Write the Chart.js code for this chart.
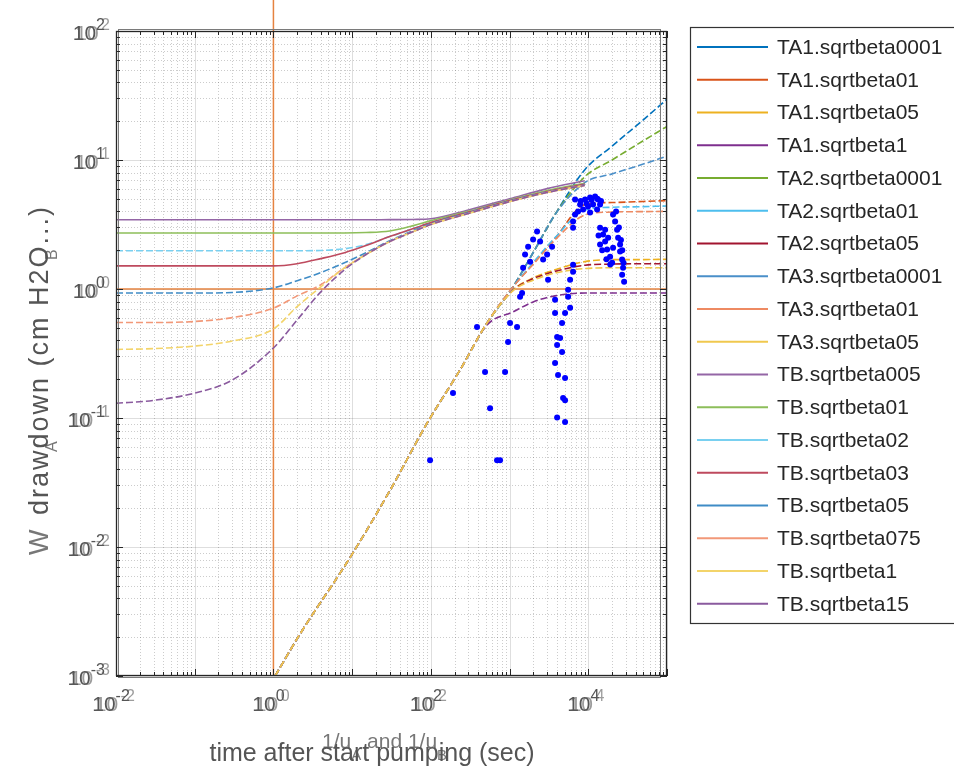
<!DOCTYPE html>
<html>
<head>
<meta charset="utf-8">
<title>drawdown type curves</title>
<script src="https://cdn.jsdelivr.net/npm/chart.js@4.4.1/dist/chart.umd.min.js"></script>
<style>
  html, body { margin: 0; padding: 0; background: #fff; }
  #wrap { width: 954px; height: 774px; }
</style>
</head>
<body>
<div id="wrap"><canvas id="chart" width="954" height="774"></canvas></div>
<script>
// Type A curves (start on the Theis line, then level off)
const taTime = [1.05, 2.18, 9.4, 30.3, 89.5, 235, 518, 1107, 1990, 3784, 9100, 20000, 50000, 100000];
const ta1Beta0001 = [0.001, 0.00212, 0.00828, 0.0275, 0.0912, 0.236, 0.546, 1.04, 1.91, 3.78, 8.45, 12.8, 20.5, 29.6];
const ta1Beta01   = [0.001, 0.00212, 0.00828, 0.0275, 0.0912, 0.236, 0.546, 1.04, 1.57, 2.47, 4.52, 4.68, 4.77, 4.85];
const ta1Beta05   = [0.001, 0.00212, 0.00828, 0.0275, 0.0912, 0.236, 0.546, 0.98, 1.22, 1.41, 1.63, 1.69, 1.69, 1.70];
const ta1Beta1    = [0.001, 0.00212, 0.00828, 0.0275, 0.0912, 0.236, 0.527, 0.665, 0.794, 0.885, 0.93, 0.93, 0.93, 0.93];
const ta2Beta0001 = [0.001, 0.00212, 0.00828, 0.0275, 0.0912, 0.236, 0.546, 1.04, 1.91, 3.78, 7.45, 10.0, 14.1, 18.2];
const ta2Beta01   = [0.001, 0.00212, 0.00828, 0.0275, 0.0912, 0.236, 0.546, 1.04, 1.60, 2.50, 4.10, 4.30, 4.35, 4.40];
const ta2Beta05   = [0.001, 0.00212, 0.00828, 0.0275, 0.0912, 0.236, 0.546, 0.98, 1.20, 1.37, 1.53, 1.56, 1.57, 1.57];
const ta3Beta0001 = [0.001, 0.00212, 0.00828, 0.0275, 0.0912, 0.236, 0.546, 1.04, 1.91, 3.78, 6.70, 7.80, 9.30, 10.7];
const ta3Beta01   = [0.001, 0.00212, 0.00828, 0.0275, 0.0912, 0.236, 0.546, 1.04, 1.55, 2.40, 3.75, 3.95, 3.98, 4.00];
const ta3Beta05   = [0.001, 0.00212, 0.00828, 0.0275, 0.0912, 0.236, 0.546, 0.97, 1.17, 1.33, 1.44, 1.46, 1.46, 1.46];

// Type B curves (flat start, then join the late-time curve)
const tbTime = [0.01, 0.03, 0.1, 0.3, 1, 2, 4, 8, 15, 30, 60, 100, 300, 1000, 3000, 9000];
const tbBeta005 = [3.44, 3.44, 3.44, 3.44, 3.44, 3.44, 3.44, 3.44, 3.44, 3.45, 3.46, 3.50, 4.10, 5.00, 6.00, 6.90];
const tbBeta01  = [2.72, 2.72, 2.72, 2.72, 2.72, 2.72, 2.72, 2.72, 2.74, 2.82, 3.10, 3.39, 4.00, 4.90, 5.80, 6.60];
const tbBeta02  = [1.98, 1.98, 1.98, 1.98, 1.98, 1.98, 1.99, 2.05, 2.21, 2.55, 2.94, 3.27, 3.95, 4.85, 5.70, 6.50];
const tbBeta03  = [1.51, 1.51, 1.51, 1.51, 1.51, 1.57, 1.72, 1.91, 2.17, 2.55, 2.94, 3.27, 3.95, 4.85, 5.70, 6.50];
const tbBeta05  = [0.93, 0.93, 0.93, 0.94, 1.02, 1.16, 1.34, 1.60, 1.91, 2.37, 2.84, 3.21, 3.90, 4.80, 5.65, 6.40];
const tbBeta075 = [0.55, 0.55, 0.56, 0.60, 0.71, 0.885, 1.08, 1.46, 1.85, 2.33, 2.79, 3.16, 3.85, 4.75, 5.60, 6.35];
const tbBeta1   = [0.34, 0.345, 0.361, 0.395, 0.49, 0.73, 1.04, 1.46, 1.85, 2.33, 2.79, 3.16, 3.85, 4.75, 5.60, 6.35];
const tbBeta15  = [0.13, 0.137, 0.156, 0.197, 0.349, 0.575, 0.95, 1.41, 1.85, 2.33, 2.79, 3.16, 3.85, 4.75, 5.60, 6.35];

// measured drawdown (blue dots)
const obsTime = [97.7, 693, 757, 191, 565, 488, 877, 957, 386, 1014, 1245, 1360, 1442, 1486, 1720, 2236, 2443,
  3467, 3000, 2668, 3083, 1574, 1824, 1990, 6412, 6412, 6412, 6412, 5875, 5540, 5540, 3784, 5875, 3784, 5070,
  4645, 4018, 4385, 4018, 4645, 3784, 4130, 5070, 4786, 5070, 4018, 5070,
  6792, 7870, 9100, 10540, 12200, 13310, 14120, 7413, 8590, 9930, 11500, 12940, 6792, 10540, 8000, 11000, 13000, 14500, 9500,
  14120, 15420, 16370, 17340, 18930, 20090, 16370, 17870, 20650, 14120, 15000, 17000, 19000, 13500,
  20650, 21930, 23230, 23930, 25350, 25350, 26910, 27670, 26910, 28510, 22550, 24500, 26000, 27000, 28000];
const obsDrawdown = [0.047, 0.047, 0.047, 0.156, 0.119, 0.227, 0.227, 0.388, 0.508, 0.546, 0.508, 0.869, 0.933, 1.46, 2.13, 2.79, 2.33,
  2.13, 1.85, 1.69, 1.18, 1.85, 1.63, 2.42, 3.33, 2.99, 1.54, 1.36, 1.18, 0.986, 0.869, 0.824, 0.714, 0.653, 0.653,
  0.546, 0.425, 0.417, 0.368, 0.325, 0.267, 0.215, 0.204, 0.143, 0.137, 0.101, 0.093,
  4.94, 4.52, 4.94, 5.12, 5.21, 4.94, 4.52, 3.98, 4.13, 4.36, 4.52, 4.13, 3.78, 3.92, 4.8, 4.9, 5.0, 4.8, 4.6,
  2.99, 2.64, 2.33, 2.02, 1.78, 1.60, 2.88, 2.50, 2.09, 2.21, 2.0, 1.7, 1.55, 2.6,
  3.78, 3.33, 2.88, 2.50, 2.21, 1.95, 1.69, 1.46, 1.29, 1.14, 3.98, 3.0, 2.4, 2.0, 1.6];

// orange reference lines at 1
const refTime = [1, 1];
const refTimeLevel = [0.001, 180];
const refLevelTime = [0.01, 100000];
const refLevel = [1, 1];

const curveNames = ['TA1.sqrtbeta0001', 'TA1.sqrtbeta01', 'TA1.sqrtbeta05', 'TA1.sqrtbeta1',
  'TA2.sqrtbeta0001', 'TA2.sqrtbeta01', 'TA2.sqrtbeta05', 'TA3.sqrtbeta0001', 'TA3.sqrtbeta01', 'TA3.sqrtbeta05',
  'TB.sqrtbeta005', 'TB.sqrtbeta01', 'TB.sqrtbeta02', 'TB.sqrtbeta03', 'TB.sqrtbeta05', 'TB.sqrtbeta075',
  'TB.sqrtbeta1', 'TB.sqrtbeta15'];
const curveValues = [ta1Beta0001, ta1Beta01, ta1Beta05, ta1Beta1, ta2Beta0001, ta2Beta01, ta2Beta05,
  ta3Beta0001, ta3Beta01, ta3Beta05, tbBeta005, tbBeta01, tbBeta02, tbBeta03, tbBeta05, tbBeta075, tbBeta1, tbBeta15];
const curveColors = ['#0072BD', '#D95319', '#EDB120', '#7E2F8E', '#77AC30', '#4DBEEE', '#A2142F',
  '#4A8FC9', '#EE8A62', '#F0C84E', '#9466A6', '#8DBE5A', '#79D0F0', '#BE4A5E', '#3F8CC6', '#F29878',
  '#F3D46A', '#8A5A9E'];

const xTickValues = [0.01, 1, 100, 10000];
const xTickExps = ['-2', '0', '2', '4'];
const yTickValues = [0.001, 0.01, 0.1, 1, 10, 100];
const yTickExps = ['-3', '-2', '-1', '0', '1', '2'];

const FONT = '"Liberation Sans", Arial, Helvetica, sans-serif';

function toPoints(xs, ys) {
    return xs.map((t, i) => ({ x: t, y: ys[i] }));
}

let datasets = [];
datasets.push({
    label: 'data',
    data: toPoints(obsTime, obsDrawdown),
    showLine: false,
    pointRadius: 3,
    pointBackgroundColor: '#0000FF',
    pointBorderWidth: 0,
    order: 0
});
// later curves sit on top, as in the original plot
curveNames.forEach((name, i) => {
    let solid = (i == 10 || i == 11 || i == 13);
    datasets.push({
        label: name,
        data: toPoints(i < 10 ? taTime : tbTime, curveValues[i]),
        showLine: true,
        borderColor: curveColors[i],
        borderWidth: 1.6,
        borderDash: solid ? [] : [7, 3],
        pointRadius: 0,
        cubicInterpolationMode: 'monotone',
        order: 40 - i
    });
});
datasets.push({
    label: 'ref-time',
    data: toPoints(refTime, refTimeLevel),
    showLine: true, borderColor: '#E58340', borderWidth: 1.5, pointRadius: 0, clip: false, order: 50
});
datasets.push({
    label: 'ref-level',
    data: toPoints(refLevelTime, refLevel),
    showLine: true, borderColor: '#E58340', borderWidth: 1.5, pointRadius: 0, order: 50
});

function logSteps(scale) {
    let major = [], minor = [];
    let e0 = Math.floor(Math.log10(scale.min)), e1 = Math.ceil(Math.log10(scale.max));
    for (let e = e0; e <= e1; e++) {
        for (let m = 1; m <= 9; m++) {
            let v = m * Math.pow(10, e);
            if (v < scale.min * 0.999 || v > scale.max * 1.001) continue;
            (m == 1 ? major : minor).push(v);
        }
    }
    return { major, minor };
}

// "10" with raised exponent, drawn twice slightly apart like the two stacked axes
function drawPow(ctx, exp, x, y, align) {
    ctx.font = '21px ' + FONT;
    let bw = ctx.measureText('10').width;
    ctx.font = '16px ' + FONT;
    let ew = ctx.measureText(exp).width;
    let total = bw + ew + 6;
    let x0 = align == 'right' ? x - total : x - total / 2;
    [[0, '#555555'], [5, 'rgba(90,90,90,0.6)']].forEach(([dx, col]) => {
        ctx.fillStyle = col;
        ctx.font = '21px ' + FONT;
        ctx.fillText('10', x0 + dx * 0.5, y);
        ctx.font = '16px ' + FONT;
        ctx.fillText(exp, x0 + bw + dx, y - 10);
    });
}

const matlabAxes = {
    id: 'matlabAxes',
    beforeDatasetsDraw(chart) {
        const { ctx, chartArea: a, scales: { x, y } } = chart;
        const xs = logSteps(x), ys = logSteps(y);
        ctx.save();
        ctx.lineWidth = 1;
        // minor grid
        ctx.strokeStyle = 'rgba(0,0,0,0.2)';
        ctx.setLineDash([1, 2]);
        ctx.beginPath();
        xs.minor.forEach(v => { let p = Math.round(x.getPixelForValue(v)) + 0.5; ctx.moveTo(p, a.top); ctx.lineTo(p, a.bottom); });
        ys.minor.forEach(v => { let p = Math.round(y.getPixelForValue(v)) + 0.5; ctx.moveTo(a.left, p); ctx.lineTo(a.right, p); });
        ctx.stroke();
        // major grid
        ctx.setLineDash([]);
        ctx.strokeStyle = 'rgba(0,0,0,0.13)';
        ctx.beginPath();
        xs.major.forEach(v => { let p = Math.round(x.getPixelForValue(v)) + 0.5; ctx.moveTo(p, a.top); ctx.lineTo(p, a.bottom); });
        ys.major.forEach(v => { let p = Math.round(y.getPixelForValue(v)) + 0.5; ctx.moveTo(a.left, p); ctx.lineTo(a.right, p); });
        ctx.stroke();
        ctx.restore();
    },
    afterDatasetsDraw(chart) {
        const { ctx, chartArea: a, scales: { x, y } } = chart;
        const xs = logSteps(x), ys = logSteps(y);
        ctx.save();
        // two overlapping boxes
        ctx.lineWidth = 1;
        ctx.strokeStyle = '#7a7a7a';
        ctx.strokeRect(a.left + 2.5, a.top - 1.5, a.right - a.left - 9, a.bottom - a.top + 3);
        ctx.strokeStyle = '#262626';
        ctx.lineWidth = 1.3;
        ctx.strokeRect(a.left + 0.5, a.top + 0.5, a.right - a.left - 1, a.bottom - a.top - 1);
        // inward ticks
        ctx.lineWidth = 1;
        ctx.beginPath();
        [[xs.major, 7], [xs.minor, 4]].forEach(([vals, len]) => vals.forEach(v => {
            let p = Math.round(x.getPixelForValue(v)) + 0.5;
            ctx.moveTo(p, a.bottom); ctx.lineTo(p, a.bottom - len);
            ctx.moveTo(p, a.top); ctx.lineTo(p, a.top + len);
        }));
        [[ys.major, 7], [ys.minor, 4]].forEach(([vals, len]) => vals.forEach(v => {
            let p = Math.round(y.getPixelForValue(v)) + 0.5;
            ctx.moveTo(a.left, p); ctx.lineTo(a.left + len, p);
            ctx.moveTo(a.right, p); ctx.lineTo(a.right - len, p);
        }));
        ctx.stroke();

        // tick labels
        ctx.textBaseline = 'alphabetic';
        ctx.textAlign = 'left';
        yTickValues.forEach((v, i) => drawPow(ctx, yTickExps[i], a.left - 5, y.getPixelForValue(v) + 9, 'right'));
        xTickValues.forEach((v, i) => drawPow(ctx, xTickExps[i], x.getPixelForValue(v) - 2, a.bottom + 35, 'center'));

        // x title, with the second axes' title on top of it
        ctx.fillStyle = '#555555';
        ctx.textAlign = 'center';
        ctx.font = '25px ' + FONT;
        ctx.fillText('time after start pumping (sec)', 372, 761);
        ctx.fillStyle = 'rgba(85,85,85,0.8)';
        ctx.textAlign = 'left';
        let parts = [['1/u', 0, 21], ['A', 12, 15], [' and 1/u', 0, 21], ['B', 12, 15]];
        let cx = 322;
        parts.forEach(([t, dy, fs]) => {
            ctx.font = fs + 'px ' + FONT;
            ctx.fillText(t, cx, 748 + dy);
            cx += ctx.measureText(t).width;
        });

        // y title
        ctx.save();
        ctx.translate(48, 360);
        ctx.rotate(-Math.PI / 2);
        ctx.fillStyle = '#555555';
        ctx.textAlign = 'center';
        ctx.font = '27px ' + FONT;
        ctx.letterSpacing = '2px';
        ctx.fillText('drawdown (cm H2O...)', 0, 0);
        ctx.letterSpacing = '0px';
        ctx.textAlign = 'left';
        ctx.fillStyle = 'rgba(85,85,85,0.8)';
        ctx.font = '27px ' + FONT;
        ctx.fillText('W', -195, 0);
        ctx.font = '16px ' + FONT;
        ctx.fillText('A', -92, 9);
        ctx.fillText('B', 100, 9);
        ctx.restore();
        ctx.restore();
    },
    afterDraw(chart) {
        const ctx = chart.ctx;
        ctx.save();
        ctx.fillStyle = '#ffffff';
        ctx.fillRect(690, 27, 270, 596);
        ctx.strokeStyle = '#333333';
        ctx.lineWidth = 1.2;
        ctx.strokeRect(690.5, 27.5, 270, 596);
        ctx.font = '21px ' + FONT;
        ctx.textBaseline = 'middle';
        ctx.textAlign = 'left';
        curveNames.forEach((name, i) => {
            let yy = 47 + i * 32.75;
            ctx.strokeStyle = curveColors[i];
            ctx.lineWidth = 2;
            ctx.beginPath();
            ctx.moveTo(697, yy);
            ctx.lineTo(768, yy);
            ctx.stroke();
            ctx.fillStyle = '#262626';
            ctx.fillText(name, 777, yy + 1);
        });
        ctx.restore();
    }
};

new Chart(document.getElementById('chart'), {
    type: 'scatter',
    data: { datasets: datasets },
    options: {
        responsive: false,
        animation: false,
        layout: { padding: { left: 116, top: 31, right: 287, bottom: 98 } },
        scales: {
            x: { type: 'logarithmic', min: 0.01, max: 100000, display: false },
            y: { type: 'logarithmic', min: 0.001, max: 100, display: false }
        },
        plugins: {
            legend: { display: false },
            tooltip: { enabled: false }
        }
    },
    plugins: [matlabAxes]
});
</script>
</body>
</html>
